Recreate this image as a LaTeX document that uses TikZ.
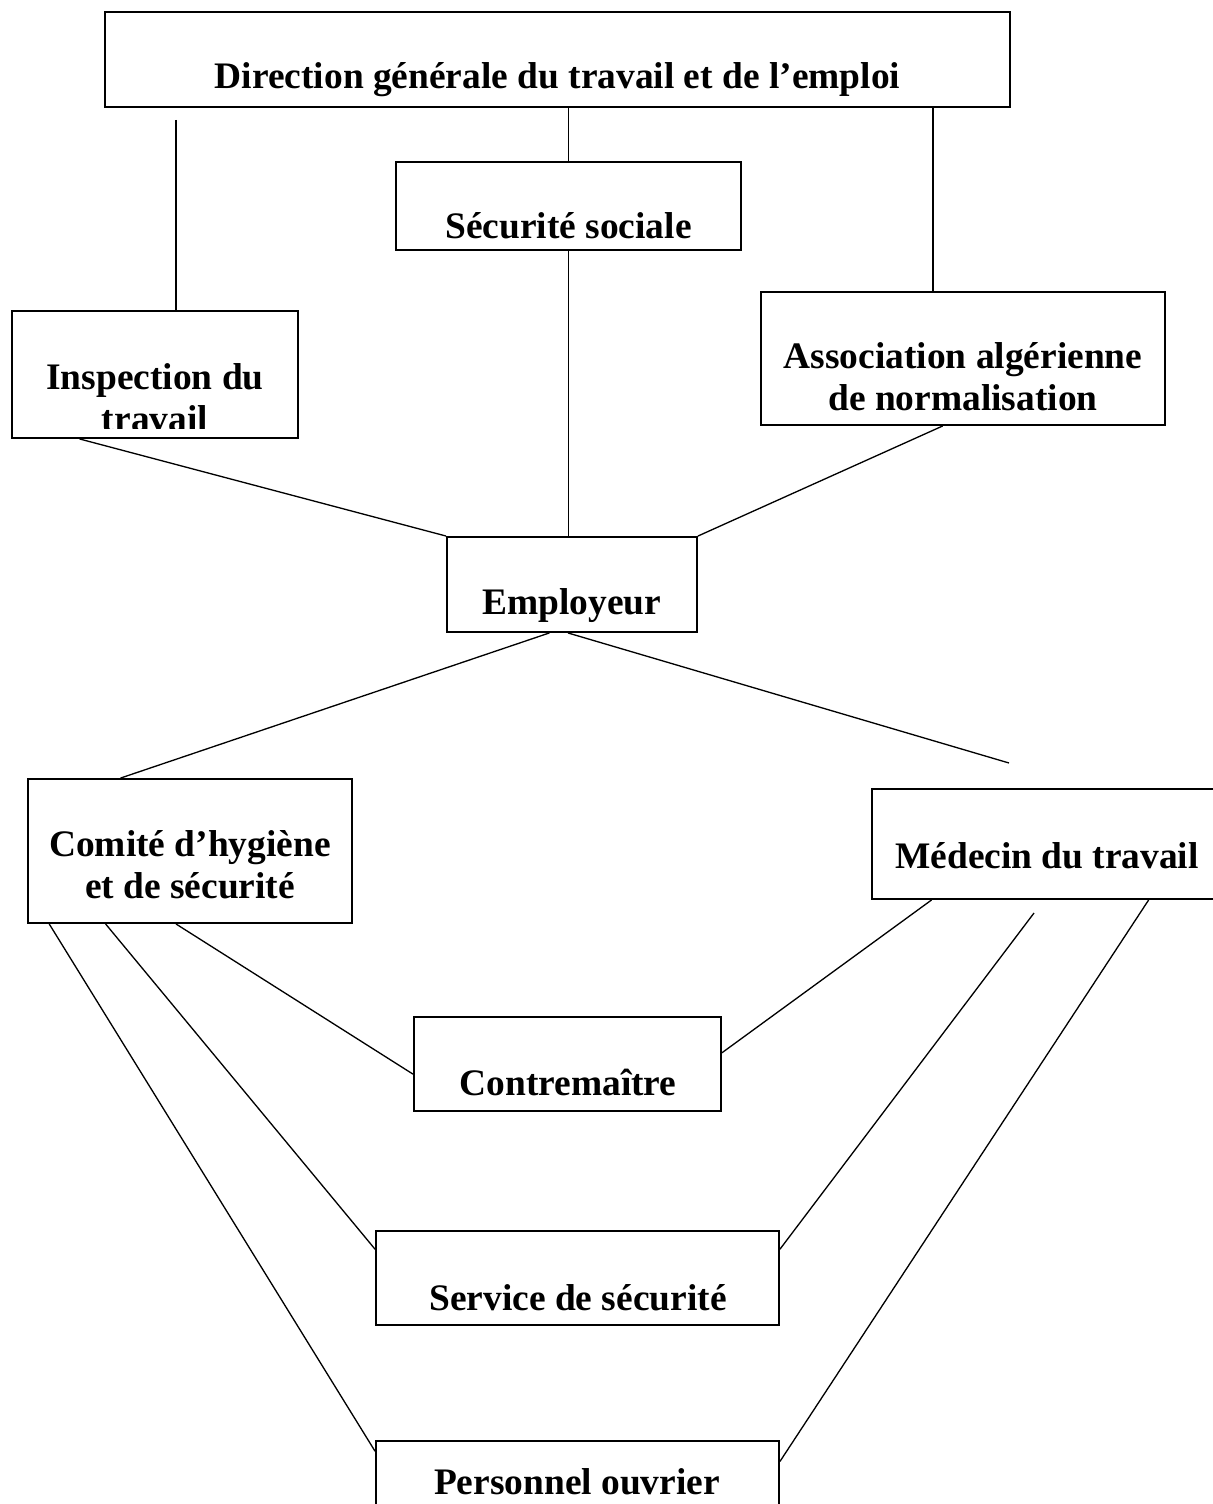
\documentclass[tikz,border=0pt]{standalone}
\usepackage{fontspec}
\setmainfont{Liberation Serif}
\usepackage{tikz}
\usetikzlibrary{calc}

\begin{document}
\begin{tikzpicture}[
    x=0.02cm, y=-0.02cm,
    orgbox/.style={rectangle, draw, line width=1.1pt, fill=white, inner sep=0pt},
    boxtext/.style={anchor=base, align=center, inner sep=0pt, font=\fontsize{21.3}{23.8}\selectfont\bfseries},
    link/.style={line width=0.75pt}
]
    \useasboundingbox (0,0) rectangle (1213,1504);

    \node[orgbox, minimum width=18.1cm, minimum height=1.9cm] (dgte) at (557.5,59.5) {};
    \node[orgbox, minimum width=6.9cm, minimum height=1.76cm] (secsoc) at (568.5,206) {};
    \node[orgbox, minimum width=5.72cm, minimum height=2.54cm] (inspect) at (155,374.5) {};
    \node[orgbox, minimum width=8.08cm, minimum height=2.66cm] (aanor) at (963,358.5) {};
    \node[orgbox, minimum width=5cm, minimum height=1.9cm] (employeur) at (572,584.5) {};
    \node[orgbox, minimum width=6.48cm, minimum height=2.88cm] (chs) at (190,851) {};
    \node[orgbox, minimum width=7.08cm, minimum height=2.2cm] (medecin) at (1049,844) {};
    \node[orgbox, minimum width=6.14cm, minimum height=1.88cm] (contremaitre) at (567.5,1064) {};
    \node[orgbox, minimum width=8.06cm, minimum height=1.88cm] (servsec) at (577.5,1278) {};
    \node[orgbox, minimum width=8.06cm, minimum height=1.8cm] (personnel) at (577.5,1486) {};

    \node[boxtext] (dgte-txt) at (557.5,89) {Direction générale du travail et de l’emploi};
    \node[boxtext] (secsoc-txt) at (568.5,238) {Sécurité sociale};
    \begin{scope}
        \clip (inspect.north west) rectangle ($(inspect.south east)+(0,-10)$);
        \node[boxtext] (inspect-txt) at (155,431) {Inspection du\\travail};
    \end{scope}
    \node[boxtext] (aanor-txt) at (963,410) {Association algérienne\\de normalisation};
    \node[boxtext] (employeur-txt) at (572,614) {Employeur};
    \node[boxtext] (chs-txt) at (190,898) {Comité d’hygiène\\et de sécurité};
    \node[boxtext] (medecin-txt) at (1047,868) {Médecin du travail};
    \node[boxtext] (contremaitre-txt) at (568,1095) {Contremaître};
    \node[boxtext] (servsec-txt) at (578,1310) {Service de sécurité};
    \node[boxtext] (personnel-txt) at (577,1494) {Personnel ouvrier};

    \coordinate (dgte-gap) at (176,120);
    \coordinate (medecin-gap) at (1009,763);
    \coordinate (medecin-gap2) at (1034,913);

    \draw[link] (dgte-gap) -- (dgte-gap |- inspect.north);
    \draw[link] (secsoc.north |- dgte.south) -- (secsoc.north);
    \draw[link] ($(aanor.north west)!0.426!(aanor.north east)$) coordinate (aanor-top) -- (aanor-top |- dgte.south);
    \draw[link] (secsoc.south) -- (secsoc.south |- employeur.north);
    \draw[link] ($(inspect.south west)!0.238!(inspect.south east)$) -- (employeur.north west);
    \draw[link] ($(aanor.south west)!0.45!(aanor.south east)$) -- (employeur.north east);
    \draw[link] ($(employeur.south west)!0.41!(employeur.south east)$) -- ($(chs.north west)!0.287!(chs.north east)$);
    \draw[link] ($(employeur.south west)!0.484!(employeur.south east)$) -- (medecin-gap);
    \draw[link] ($(chs.south west)!0.457!(chs.south east)$) -- ($(contremaitre.north west)!0.606!(contremaitre.south west)$);
    \draw[link] ($(medecin.south west)!0.17!(medecin.south east)$) -- ($(contremaitre.north east)!0.383!(contremaitre.south east)$);
    \draw[link] ($(chs.south west)!0.241!(chs.south east)$) -- ($(servsec.north west)!0.2!(servsec.south west)$);
    \draw[link] (medecin-gap2) -- ($(servsec.north east)!0.2!(servsec.south east)$);
    \draw[link] ($(chs.south west)!0.068!(chs.south east)$) -- ($(personnel.north west)!0.122!(personnel.south west)$);
    \draw[link] ($(medecin.south west)!0.78!(medecin.south east)$) -- ($(personnel.north east)!0.233!(personnel.south east)$);
\end{tikzpicture}
\end{document}
